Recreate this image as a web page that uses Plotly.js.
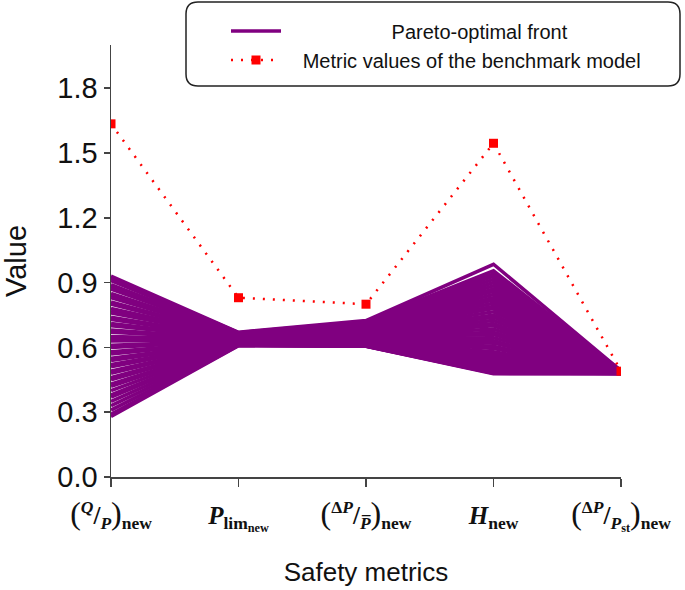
<!DOCTYPE html>
<html>
<head>
<meta charset="utf-8">
<script src="https://cdn.plot.ly/plotly-3.0.1.min.js"></script>
<style>html,body{margin:0;padding:0;background:#fff;}#chart{width:685px;height:590px;}</style>
</head>
<body>
<div id="chart"></div>
<script>
// Axis categories (safety metrics) and their tick labels
const metricPos = [0, 1, 2, 3, 4];
const LP = '<span style="font-size:32px;font-weight:normal">(</span>';
const RP = '<span style="font-size:32px;font-weight:normal">)</span>';
const metricLabels = [
  LP + "<sup><i>Q</i></sup>/<sub><i>P</i></sub>" + RP + "<sub>new</sub>",
  "<i>P</i><sub>lim<sub>new</sub></sub>",
  LP + "<sup>Δ<i>P</i></sup>/<sub><i>P\u0305</i></sub>" + RP + "<sub>new</sub>",
  "<i>H</i><sub>new</sub>",
  LP + "<sup>Δ<i>P</i></sup>/<sub><i>P</i><sub>st</sub></sub>" + RP + "<sub>new</sub>"
];

// Benchmark model metric values
const benchmark = [1.635, 0.83, 0.80, 1.545, 0.49];

// Pareto-optimal solutions, one value per solution for each metric
const frontQP   = [0.93,0.92,0.91,0.89,0.88,0.87,0.85,0.84,0.83,0.81,0.80,0.78,0.77,0.76,0.74,0.73,0.71,0.70,0.68,0.67,0.65,0.64,0.63,0.61,0.60,0.58,0.57,0.55,0.54,0.52,0.51,0.49,0.48,0.46,0.45,0.43,0.42,0.40,0.38,0.37,0.35,0.33,0.31,0.29,0.28];
const frontPlim = [0.670,0.668,0.667,0.664,0.662,0.661,0.658,0.657,0.655,0.653,0.652,0.650,0.648,0.647,0.645,0.644,0.642,0.641,0.639,0.638,0.637,0.635,0.634,0.632,0.631,0.629,0.628,0.627,0.625,0.624,0.623,0.621,0.620,0.619,0.618,0.617,0.616,0.615,0.614,0.613,0.612,0.611,0.610,0.609,0.608];
const frontDPb  = [0.724,0.720,0.717,0.713,0.710,0.706,0.703,0.699,0.696,0.692,0.689,0.685,0.682,0.679,0.675,0.672,0.668,0.665,0.661,0.658,0.655,0.651,0.648,0.645,0.642,0.639,0.636,0.633,0.631,0.628,0.626,0.623,0.621,0.619,0.617,0.615,0.613,0.611,0.610,0.609,0.608,0.607,0.606,0.605,0.605];
const frontH    = [0.985,0.955,0.94,0.93,0.915,0.90,0.885,0.87,0.86,0.845,0.83,0.82,0.805,0.79,0.78,0.765,0.75,0.74,0.725,0.71,0.70,0.685,0.67,0.66,0.645,0.63,0.62,0.605,0.595,0.58,0.57,0.56,0.55,0.54,0.53,0.52,0.515,0.505,0.50,0.495,0.49,0.485,0.482,0.48,0.478];
const frontDPst = [0.492,0.491,0.491,0.490,0.490,0.489,0.489,0.488,0.488,0.488,0.487,0.487,0.487,0.486,0.486,0.486,0.485,0.485,0.485,0.485,0.484,0.484,0.484,0.484,0.483,0.483,0.483,0.483,0.482,0.482,0.482,0.482,0.481,0.481,0.481,0.481,0.480,0.480,0.480,0.480,0.479,0.479,0.479,0.478,0.478];

const PURPLE = "#800080";
const NB = n => "\u00a0".repeat(n);
const traces = [];
for (let i = 0; i < frontQP.length; i++) {
  traces.push({
    type: "scatter", mode: "lines",
    x: metricPos,
    y: [frontQP[i], frontPlim[i], frontDPb[i], frontH[i], frontDPst[i]],
    line: {color: PURPLE, width: 3.6},
    name: NB(19) + "Pareto-optimal front",
    legendgroup: "front",
    showlegend: i === 0,
    hoverinfo: "skip"
  });
}
traces.push({
  type: "scatter", mode: "lines+markers",
  x: metricPos, y: benchmark,
  line: {color: "#ff0000", width: 2.5, dash: "2px,8px"},
  marker: {symbol: "square", size: 9, color: "#ff0000"},
  name: NB(3) + "Metric values of the benchmark model"
});

// plot area: x 111..621, y 45..477 (px)
const L = 111, R = 621, T = 45, B = 477;
const px = v => (v - L) / (R - L);
const py = v => (B - v) / (B - T);
const bx0 = px(186), bx1 = px(680), by0 = py(86), by1 = py(2);
const rx = 12 / (R - L), ry = 12 / (B - T);
const boxPath = `M ${bx0+rx},${by1} L ${bx1-rx},${by1} Q ${bx1},${by1} ${bx1},${by1-ry} L ${bx1},${by0+ry} Q ${bx1},${by0} ${bx1-rx},${by0} L ${bx0+rx},${by0} Q ${bx0},${by0} ${bx0},${by0+ry} L ${bx0},${by1-ry} Q ${bx0},${by1} ${bx0+rx},${by1} Z`;

const layout = {
  width: 685, height: 590,
  margin: {l: L, r: 685 - R, t: T, b: 590 - B},
  paper_bgcolor: "#ffffff", plot_bgcolor: "#ffffff",
  font: {family: "Liberation Sans, Arial, sans-serif", color: "#111"},
  showlegend: true,
  legend: {
    x: px(226), y: py(11.5), xanchor: "left", yanchor: "top",
    bgcolor: "rgba(0,0,0,0)", borderwidth: 0,
    font: {size: 20, family: "Liberation Sans, Arial, sans-serif", color: "#111"},
    itemwidth: 50, tracegroupgap: 0
  },
  xaxis: {
    range: [0, 4], tickvals: metricPos, ticktext: metricLabels,
    showgrid: false, zeroline: false, showline: true,
    linecolor: "#444", linewidth: 1.5,
    ticks: "outside", ticklen: 8, tickwidth: 1.5, tickcolor: "#444",
    ticklabelstandoff: 7,
    tickfont: {family: "Liberation Serif, DejaVu Serif, serif", size: 25, weight: "bold", color: "#111"},
    title: {text: "Safety metrics", font: {size: 26, family: "Liberation Sans, Arial, sans-serif", color: "#111"}, standoff: 28}
  },
  yaxis: {
    range: [0, 2], tickvals: [0, 0.3, 0.6, 0.9, 1.2, 1.5, 1.8], tickformat: ".1f",
    showgrid: false, zeroline: false, showline: true,
    linecolor: "#444", linewidth: 1.5,
    ticks: "outside", ticklen: 6, tickwidth: 1.5, tickcolor: "#444",
    tickfont: {size: 29, color: "#111"},
    title: {text: NB(2) + "Value", font: {size: 29, color: "#111"}, standoff: 25}
  },
  shapes: [{
    type: "path", xref: "paper", yref: "paper", path: boxPath,
    line: {color: "#222", width: 1.5}, fillcolor: "rgba(0,0,0,0)", layer: "above"
  }]
};

Plotly.newPlot("chart", traces, layout, {displayModeBar: false, staticPlot: true});
</script>
</body>
</html>
